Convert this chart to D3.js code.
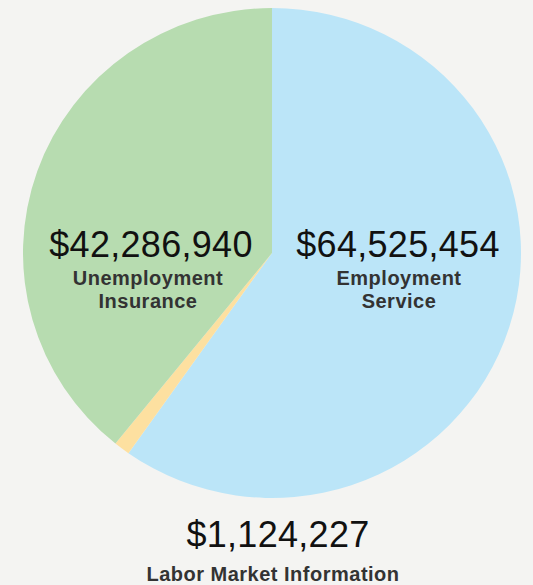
<!DOCTYPE html>
<html>
<head>
<meta charset="utf-8">
<script src="https://cdn.jsdelivr.net/npm/d3@7"></script>
<style>
  html, body { margin: 0; padding: 0; background: #f4f4f2; }
  svg { display: block; }
</style>
</head>
<body>
<svg id="chart" width="533" height="585"></svg>
<script>
// Program funding by category
const categories = ["Employment Service", "Labor Market Information", "Unemployment Insurance"];
const amounts = [64525454, 1124227, 42286940];
const colors = ["#bbe5f8", "#fde0a0", "#b7dcb0"];
const nameLines = [["Employment", "Service"], ["Labor Market Information"], ["Unemployment", "Insurance"]];

const svg = d3.select("#chart");
const cx = 272, cy = 253, rx = 249, ry = 245;

const data = categories.map((c, i) => ({ name: c, value: amounts[i], color: colors[i], lines: nameLines[i] }));

const pie = d3.pie().sort(null).value(d => d.value).startAngle(0).endAngle(2 * Math.PI);
const arc = d3.arc().innerRadius(0).outerRadius(rx);

const pieG = svg.append("g")
  .attr("transform", `translate(${cx},${cy}) scale(1,${ry / rx})`);

pieG.selectAll("path")
  .data(pie(data))
  .join("path")
  .attr("d", arc)
  .attr("fill", d => d.data.color);

const fmt = d3.format("$,");

// Label placement per category: value line and name lines
const labelPos = [
  { x: 398, y: 257, nameX: 399, nameY: 285 },
  { x: 278, y: 547, nameX: 273, nameY: 581 },
  { x: 151, y: 257, nameX: 148, nameY: 285 }
];

const labels = svg.append("g");
data.forEach((d, i) => {
  const p = labelPos[i];
  labels.append("text")
    .attr("x", p.x).attr("y", p.y)
    .attr("text-anchor", "middle")
    .attr("font-family", "Liberation Sans, Arial, sans-serif")
    .attr("font-size", 36)
    .attr("letter-spacing", 0.3)
    .attr("fill", "#111")
    .text(fmt(d.value));
  d.lines.forEach((line, j) => {
    labels.append("text")
      .attr("x", p.nameX).attr("y", p.nameY + j * 23)
      .attr("text-anchor", "middle")
      .attr("font-family", "Liberation Sans, Arial, sans-serif")
      .attr("font-weight", "bold")
      .attr("font-size", 20)
      .attr("letter-spacing", 0.5)
      .attr("fill", "#333")
      .text(line);
  });
});
</script>
</body>
</html>
